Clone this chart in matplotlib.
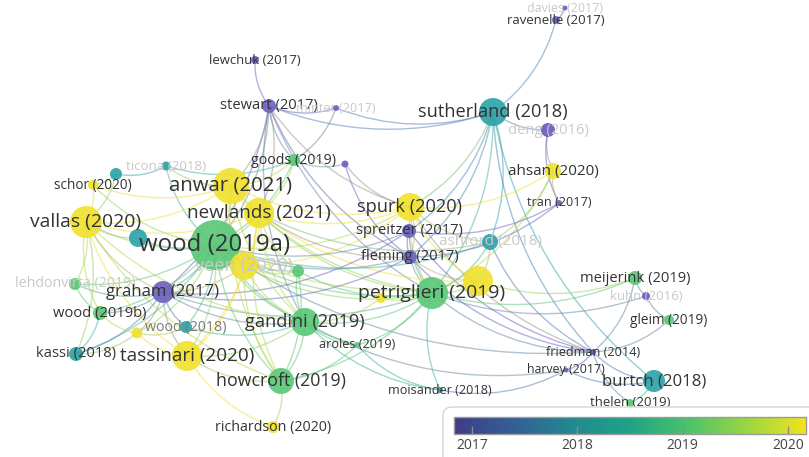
import numpy as np
import matplotlib
matplotlib.use("Agg")
import matplotlib.pyplot as plt
from matplotlib.colors import LinearSegmentedColormap, Normalize, to_rgb
from matplotlib.patches import FancyArrowPatch, FancyBboxPatch
from matplotlib.cm import ScalarMappable

plt.rcParams["font.family"] = ["Open Sans", "DejaVu Sans"]

# network map read from the VOSviewer overlay (map units = pixels)
labels = ["lewchuk (2017)", "stewart (2017)", "minter (2017)", "davies (2017)", "ravenelle (2017)",
          "sutherland (2018)", "deng (2016)", "ahsan (2020)", "tran (2017)", "goods (2019)",
          "", "ticona (2018)", "", "schor (2020)", "anwar (2021)",
          "newlands (2021)", "vallas (2020)", "spurk (2020)", "spreitzer (2017)", "ashford (2018)",
          "", "wood (2019a)", "veen (2020)", "", "fleming (2017)",
          "", "petriglieri (2019)", "", "lehdonvirta (2019)", "graham (2017)",
          "wood (2019b)", "wood (2018)", "", "gandini (2019)", "aroles (2019)",
          "kassi (2018)", "tassinari (2020)", "howcroft (2019)", "richardson (2020)", "moisander (2018)",
          "meijerink (2019)", "kuhn (2016)", "gleim (2019)", "friedman (2014)", "harvey (2017)",
          "burtch (2018)", "thelen (2019)"]
node_x = [255, 269, 336, 565, 556, 493, 548, 553, 559, 294,
          345, 166, 116, 93, 231, 259, 86, 410, 409, 490,
          138, 215, 244, 298, 410, 478, 432, 381, 75, 163,
          100, 186, 137, 305, 357, 76, 187, 281, 273, 440,
          635, 646, 669, 593, 566, 654, 630]
node_y = [60, 106, 108, 8, 20, 112, 130, 171, 203, 160,
          164, 166, 174, 185, 186, 213, 222, 207, 231, 242,
          238, 245, 266, 271, 257, 281, 293, 298, 284, 292,
          313, 327, 333, 322, 345, 354, 356, 381, 427, 390,
          278, 296, 320, 352, 370, 381, 403]
node_weight = [4, 7, 3, 2.5, 4, 14, 7, 8, 3, 6,
               3.5, 4.5, 6, 5, 18, 15, 16, 14, 7, 8,
               9, 25, 14, 6, 7, 15, 16, 5, 6, 11,
               7, 6, 5.5, 14, 3, 7, 15, 13, 6, 3,
               7, 4, 5, 3, 2.5, 11, 4]
node_score = [2017, 2017, 2017, 2017, 2017, 2018, 2016.8, 2020, 2017, 2019,
              2017, 2018, 2018, 2020, 2020, 2020, 2020, 2020, 2017, 2018,
              2018, 2019, 2020, 2019, 2017, 2020, 2019, 2020, 2019, 2017,
              2019, 2018, 2020, 2019, 2019, 2018, 2020, 2019, 2020, 2018,
              2019, 2016.8, 2019, 2016.8, 2017, 2018, 2019]
hidden_labels = ["minter (2017)", "davies (2017)", "deng (2016)", "ticona (2018)", "ashford (2018)",
                 "veen (2020)", "lehdonvirta (2019)", "kuhn (2016)"]

edges = [(1, 0), (1, 2), (1, 21), (1, 29), (1, 9), (1, 15), (1, 14), (1, 17), (1, 24), (1, 33),
         (1, 26), (1, 5), (2, 5), (2, 9), (10, 17), (10, 24), (9, 10),
         (5, 4), (4, 3), (5, 6), (5, 17), (5, 19), (5, 26), (5, 43), (5, 18), (5, 24), (5, 45),
         (6, 7), (6, 8), (7, 8), (7, 17), (7, 26), (7, 19), (8, 24), (8, 18),
         (43, 19), (43, 17), (43, 18), (43, 24), (43, 40), (43, 42), (43, 45), (43, 44), (43, 46),
         (43, 26), (43, 21), (44, 39), (44, 45), (44, 33), (41, 40), (41, 42), (41, 26),
         (40, 25), (40, 26), (45, 46), (39, 26), (39, 33), (39, 34), (34, 33), (34, 26), (34, 37),
         (34, 21), (26, 25), (26, 24), (26, 18), (26, 17), (26, 33), (26, 21), (26, 15), (26, 14),
         (26, 29), (26, 37), (26, 19), (26, 22), (25, 19), (25, 17), (25, 24), (25, 15), (25, 21),
         (17, 15), (17, 14), (17, 21), (17, 18), (17, 24), (17, 19), (17, 22), (18, 24), (18, 21),
         (18, 29), (24, 29), (24, 21), (24, 15), (19, 15), (19, 21), (21, 16), (21, 14), (21, 15),
         (21, 22), (21, 29), (21, 33), (21, 37), (21, 36), (21, 30), (21, 35), (21, 28), (21, 13),
         (21, 11), (21, 31), (21, 9), (21, 23), (21, 20), (21, 32), (14, 15), (14, 16), (14, 13),
         (14, 11), (14, 9), (14, 22), (14, 33), (14, 37), (15, 22), (15, 9), (15, 33), (15, 37),
         (15, 36), (15, 23), (15, 16), (16, 13), (16, 20), (16, 12), (16, 28), (16, 30), (16, 29),
         (16, 36), (16, 33), (16, 35), (16, 37), (12, 11), (12, 13), (11, 9), (22, 33), (22, 23),
         (22, 36), (22, 37), (22, 29), (23, 33), (23, 37), (23, 26), (29, 30), (29, 31), (29, 36),
         (29, 35), (29, 33), (29, 32), (32, 30), (32, 36), (32, 35), (32, 31), (33, 37), (33, 36),
         (33, 31), (37, 38), (37, 36), (35, 30), (28, 29), (28, 30), (38, 36), (27, 26), (27, 33)]

# ticks of the overlay colour scale
bar_ticks = [2017, 2018, 2019, 2020]
bar_range = (2016.83, 2020.17)

bar_cmap = LinearSegmentedColormap.from_list(
    "vos", ["#403c88", "#335f96", "#22888f", "#1fa386", "#4cc26b", "#9cd640", "#f2e21e"])
node_cmap = LinearSegmentedColormap.from_list(
    "vos_nodes", [(0, "#6a5cc0"), (0.051, "#6d63c0"), (0.2, "#4f86be"), (0.35, "#2ea3aa"),
                  (0.5, "#3db98e"), (0.65, "#5cc879"), (0.8, "#a6d84a"), (0.95, "#f0e130"),
                  (1, "#f2e22a")])
norm = Normalize(*bar_range)


def node_color(v):
    return node_cmap(norm(v))


fig = plt.figure(figsize=(8.09, 4.57), dpi=100)
ax = fig.add_axes([0, 0, 1, 1])
ax.set_xlim(0, 809)
ax.set_ylim(457, 0)
ax.axis("off")

for i, (a, b) in enumerate(edges):
    ca = np.array(to_rgb(node_color(node_score[a])))
    cb = np.array(to_rgb(node_color(node_score[b])))
    col = 0.6 * ca + 0.4 * cb
    rad = 0.18 if (node_x[a] < node_x[b]) else -0.18
    p = FancyArrowPatch((node_x[a], node_y[a]), (node_x[b], node_y[b]),
                        connectionstyle=f"arc3,rad={rad}", arrowstyle="-",
                        color=col, lw=1.0, alpha=0.5, shrinkA=0, shrinkB=0, zorder=1)
    ax.add_patch(p)

sizes = [(2 * w * 0.72) ** 2 for w in node_weight]
ax.scatter(node_x, node_y, s=sizes, c=[node_color(v) for v in node_score],
           alpha=0.92, linewidths=0, zorder=2)

for lab, x, y, w in zip(labels, node_x, node_y, node_weight):
    if not lab:
        continue
    if lab in hidden_labels:
        col = "#c9c9c9"
    elif lab == "wood (2018)":
        col = "#7a7a7a"
    else:
        col = "#333333"
    ax.text(x, y, lab, ha="center", va="center", fontsize=8.0 + 0.37 * w,
            color=col, zorder=3)

box = FancyBboxPatch((443, 407), 380, 60, boxstyle="round,pad=0,rounding_size=9",
                     fc="white", ec="#d5d5d5", lw=1, zorder=4)
ax.add_patch(box)

cax = fig.add_axes([454 / 809, 1 - 434 / 457, 352 / 809, 17 / 457])
cb = fig.colorbar(ScalarMappable(norm=norm, cmap=bar_cmap), cax=cax, orientation="horizontal")
cb.set_ticks(bar_ticks)
cb.ax.tick_params(direction="in", length=6, width=1, color="#8a8a8a",
                  labelsize=10, labelcolor="#444444", pad=3)
cb.outline.set_edgecolor("#9a9a9a")
cb.outline.set_linewidth(1)

fig.savefig("out.png", dpi=100)
